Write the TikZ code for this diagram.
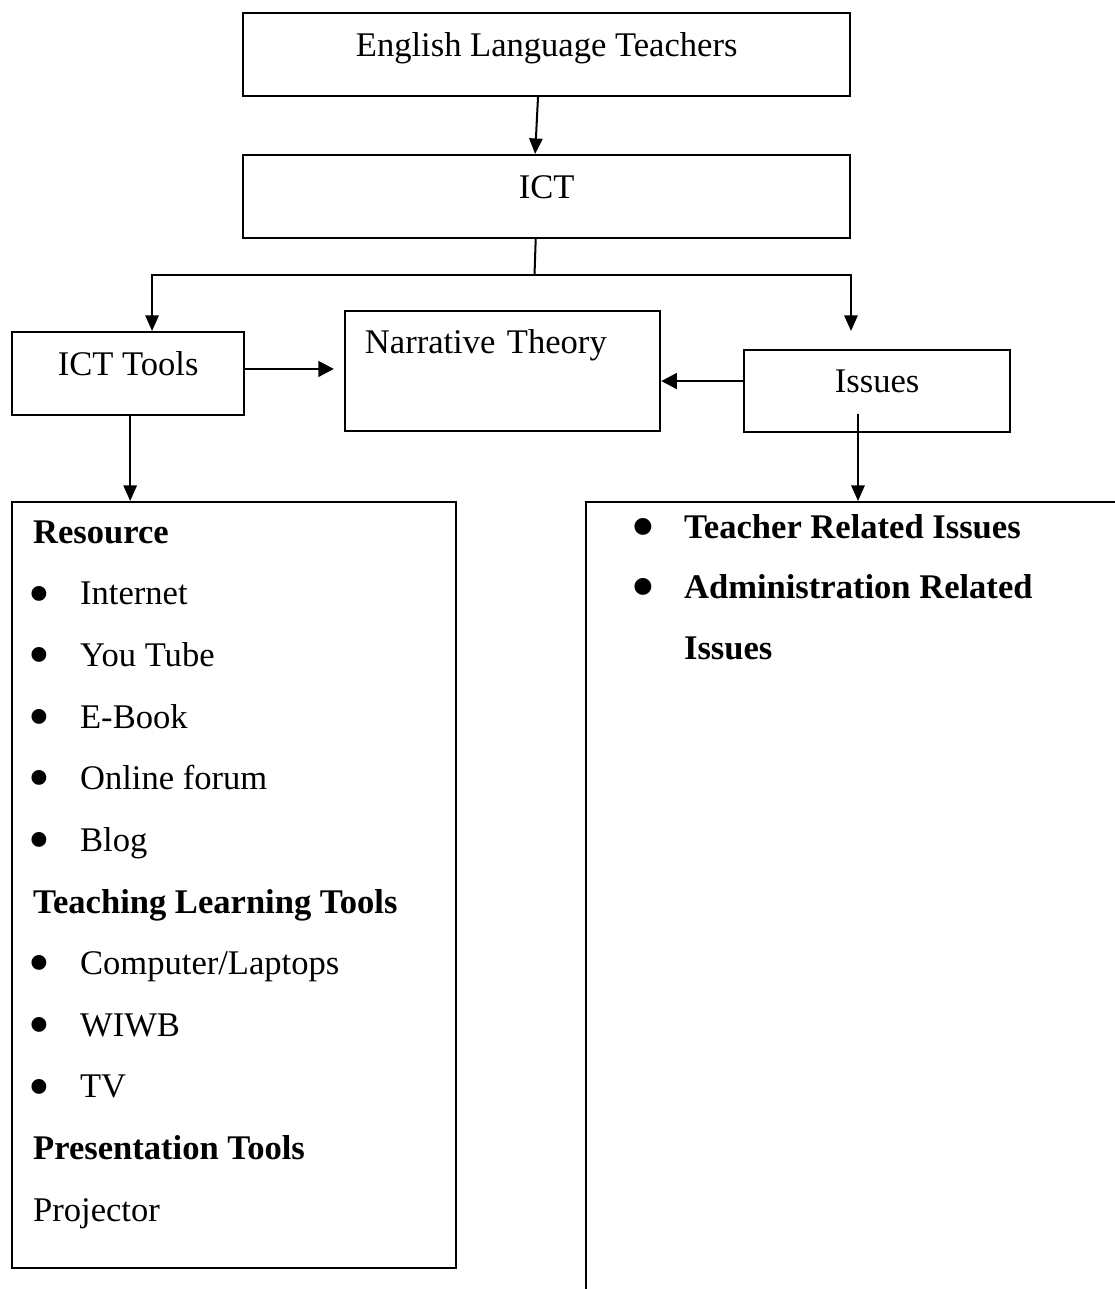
\documentclass[tikz,border=0pt]{standalone}
\usepackage{fontspec}
\setmainfont{Liberation Serif}
\usepackage{tikz}
\usetikzlibrary{arrows.meta, positioning}
\tikzstyle{box} = [rectangle, draw, line width=0.75pt,
    inner sep=0pt, anchor=north west]
\tikzstyle{listtext} = [rectangle, inner sep=0pt, anchor=north west, align=left]
\tikzstyle{line} = [draw, -{Triangle[length=5.4pt, width=4.6pt]}, line width=0.7pt]
\tikzstyle{thickline} = [draw, -{Triangle[length=5.4pt, width=5.4pt]}, line width=1pt]
\newcommand{\bul}{\makebox[16.3pt][l]{\makebox[4.5pt]{\raisebox{-3.2pt}{\scalebox{1.8}{\textbullet}}}}}

\begin{document}
\begin{tikzpicture}[x=0.3472pt, y=-0.3472pt, font=\fontsize{12pt}{21.4pt}\selectfont]
            \useasboundingbox (0,0) rectangle (1115,1289);
            \clip (0,0) rectangle (1115,1289);

            % Place nodes
            \node [box, minimum width=210.8pt, text height=14.9pt, text depth=13.9pt] (teachers) at (242,12) {English Language Teachers};
            \node [box, minimum width=210.8pt, text height=14.9pt, text depth=13.9pt] (ict) at (242,154) {ICT};
            \node [box, minimum width=80.6pt, text height=14.9pt, text depth=13.9pt] (tools) at (11,331) {ICT Tools};
            \node [box, text width=95.6pt, inner xsep=6.9pt, align=left, text height=14.6pt, text depth=27.1pt] (narrative) at (344,310) {Narrative Theory};
            \node [box, minimum width=92.4pt, text height=14.6pt, text depth=13.9pt] (issues) at (743,349) {Issues};
            \node [box, minimum width=154.2pt, minimum height=266pt] (leftbox) at (11,501) {};
            \node [box, minimum width=243pt, minimum height=312.5pt] (rightbox) at (585,501) {};

            \node [listtext, below right=6.6pt and 7.5pt of leftbox.north west] (leftlist) {\textbf{Resource}\\
                \bul Internet\\ \bul You Tube\\ \bul E-Book\\ \bul Online forum\\ \bul Blog\\
                \textbf{Teaching Learning Tools}\\
                \bul Computer/Laptops\\ \bul WIWB\\ \bul TV\\
                \textbf{Presentation Tools}\\
                Projector};
            \node [listtext, below right=4.4pt and 17.9pt of rightbox.north west,
                font=\fontsize{12pt}{21pt}\selectfont\bfseries] (rightlist) {\bul Teacher Related Issues\\
                \bul Administration Related\\ \hspace{16.3pt}Issues};

            \coordinate (split) at (534.5,275);
            \coordinate (issuesin) at (851,331);
            \coordinate (issuesout) at (858,414);

            % Draw edges
            \path [line] ([xshift=-3pt]teachers.south) -- ([xshift=-4pt]ict.north);
            \path [draw, line width=0.7pt] ([xshift=-3.8pt]ict.south) -- (split);
            \path [line] (split) -| ([xshift=8.3pt]tools.north);
            \path [line] (split) -| (issuesin);
            \path [thickline, shorten >=3.5pt] ([yshift=1.6pt]tools.east) -- ([yshift=1.6pt]tools.east -| narrative.west);
            \path [thickline] ([yshift=3.5pt]issues.west) -- ([yshift=3.5pt]issues.west -| narrative.east);
            \path [line] ([xshift=0.7pt]tools.south) -- ([xshift=0.7pt]tools.south |- leftbox.north);
            \path [line] (issuesout) -- (issuesout |- rightbox.north);

        \end{tikzpicture}
\end{document}
